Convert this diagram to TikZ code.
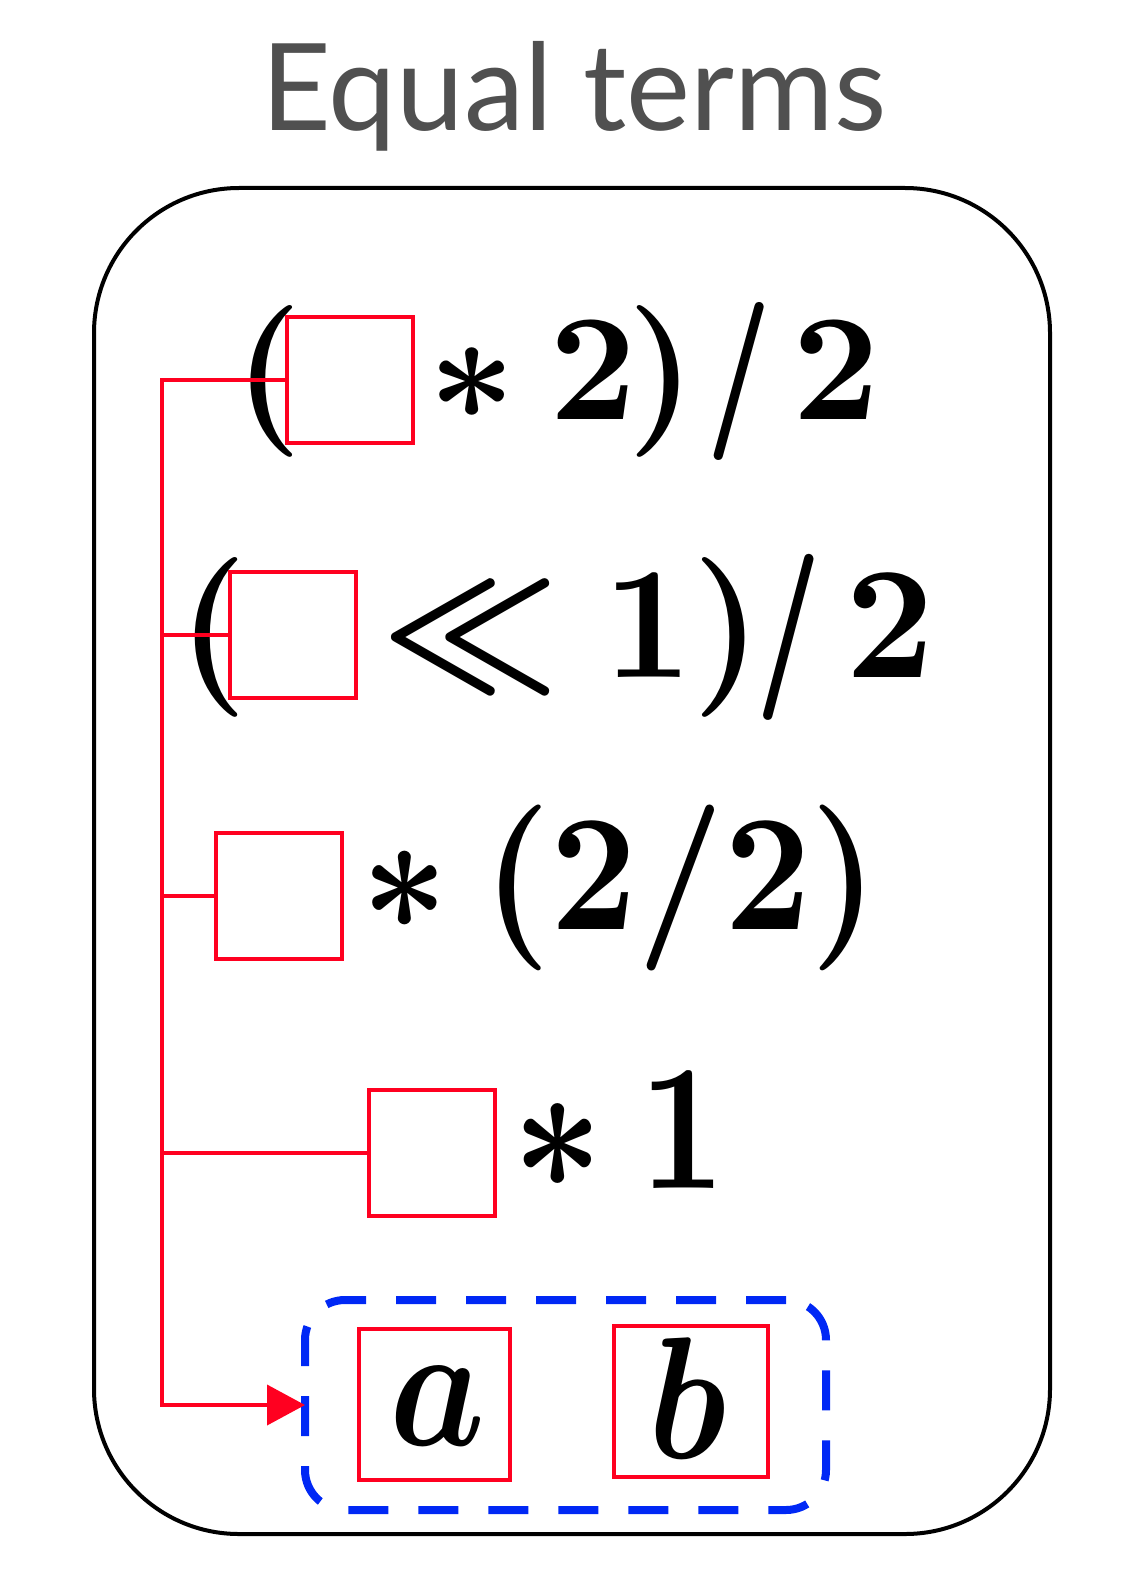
\documentclass[tikz,border=0pt]{standalone}
\usepackage{fontspec}
\usepackage{graphicx}
\usetikzlibrary{arrows.meta}
\newfontfamily\latofont{Lato}
\definecolor{tred}{RGB}{255,0,32}
\definecolor{tblue}{RGB}{0,40,245}
\definecolor{tgray}{RGB}{80,80,80}
\newcommand{\mysc}[3]{\scalebox{#1}[#2]{\boldmath$#3$}}
\begin{document}
\begin{tikzpicture}[x=1pt,y=-1pt,
  txt/.style={anchor=base west,inner sep=0pt,outer sep=0pt},
  slash/.style={anchor=center,inner sep=0pt,outer sep=0pt,rotate=7},
  hole/.style={draw=tred,line width=4pt,inner sep=0pt,outer sep=0pt,minimum width=126pt,minimum height=126pt},
  leaf/.style={draw=tred,line width=4pt,inner sep=0pt,outer sep=0pt},
  conn/.style={draw=tred,line width=4pt},
  frame/.style={draw=black,line width=4pt,rounded corners=145pt,inner sep=0pt,outer sep=0pt},
  group/.style={draw=tblue,line width=8pt,dash pattern=on 40pt off 30pt,rounded corners=40pt,inner sep=0pt,outer sep=0pt}]
\useasboundingbox (0,0) rectangle (1128,1594);
% title
\node[anchor=base,inner sep=0pt,text=tgray,font=\latofont\fontsize{121}{128}\selectfont] (title) at (574,131) {Equal terms};
% outer frame
\node[frame,minimum width=956pt,minimum height=1346pt] (frm) at (572,861) {};
% row 1
\node[txt] (p1) at (234,419) {\mysc{15.2}{15.2}{(}};
\node[txt] (s1) at (428,419) {\mysc{15.2}{15.2}{\ast}};
\node[txt] (d1a) at (549,419) {\mysc{15.2}{15.2}{2}};
\node[txt] (c1) at (627,419) {\mysc{15.2}{15.2}{)}};
\node[slash] (sl1) at (739,381) {\makebox[30pt][c]{\mysc{15.2}{15.2}{/}}};
\node[txt] (d1b) at (792,419) {\mysc{15.2}{15.2}{2}};
% row 2
\node[txt] (p2) at (178,677) {\mysc{15.5}{16}{(}};
\node[txt] (l2) at (381,677) {\mysc{15.5}{16}{\ll}};
\node[txt] (d2a) at (603,677) {\mysc{15.5}{16}{1}};
\node[txt] (c2) at (692,677) {\mysc{15.5}{16}{)}};
\node[slash] (sl2) at (789,637) {\makebox[30pt][c]{\mysc{15.5}{16}{/}}};
\node[txt] (d2b) at (845,677) {\mysc{15.5}{16}{2}};
% row 3
\node[txt] (s3) at (361,929) {\mysc{15.1}{16.6}{\ast}};
\node[txt] (r3) at (483,929) {\mysc{15.1}{16.6}{(2/2)}};
% row 4
\node[txt] (s4) at (512,1188) {\mysc{15.8}{18}{\ast}};
\node[txt] (r4) at (639,1188) {\mysc{15}{18}{1}};
% row 5
\node[txt] (ta) at (389,1445) {\mysc{15.2}{17.7}{a}};
\node[txt] (tb) at (648,1458) {\mysc{15}{17.4}{b}};
% red boxes
\node[hole] (b1) at (350,380) {};
\node[hole] (b2) at (292.5,634.5) {};
\node[hole] (b3) at (278.5,895.5) {};
\node[hole] (b4) at (431.5,1152.5) {};
\node[leaf,minimum width=151pt,minimum height=151pt] (ba) at (434.5,1404.5) {};
\node[leaf,minimum width=154pt,minimum height=151pt] (bb) at (691,1401.5) {};
% blue group
\node[group,minimum width=521pt,minimum height=210pt] (grp) at (565.5,1405) {};
% connectors
\coordinate (sp) at (162,380);
\draw[conn,-{Triangle[length=38pt,width=40pt]}] (b1.west) -- (b1.west -| sp) |- (grp.west);
\draw[conn] (b2.west) -- (b2.west -| sp);
\draw[conn] (b3.west) -- (b3.west -| sp);
\draw[conn] (b4.west) -- (b4.west -| sp);
\end{tikzpicture}
\end{document}
